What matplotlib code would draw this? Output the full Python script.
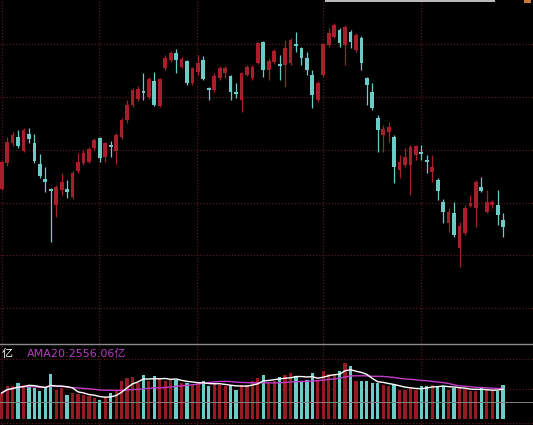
import matplotlib
matplotlib.use("Agg")
import matplotlib.pyplot as plt
from matplotlib.patches import Rectangle
import numpy as np
import pandas as pd

# ---- data ----
opens = [3122,3174,3214,3226,3198,3232,3214,3172,3142,3122,3090,3120,3122,3106,3158,3174,3176,3204,3224,3186,
         3210,3198,3226,3260,3290,3302,3318,3306,3338,3288,3364,3380,3394,3366,3378,3334,3356,3380,3324,3320,
         3344,3354,3348,3316,3300,3350,3344,3374,3416,3360,3376,3372,3370,3374,3412,3404,3384,3350,3300,3350,
         3410,3426,3440,3410,3436,3400,3424,3344,3316,3264,3230,3236,3226,3160,3170,3170,3190,3196,3180,3156,
         3140,3096,3054,3074,3004,3034,3088,3084,3126,3076,3090,3090,3060]
highs = [3180,3226,3236,3240,3244,3244,3232,3192,3166,3124,3130,3154,3140,3158,3194,3200,3206,3224,3226,3216,
         3218,3234,3264,3300,3324,3328,3354,3346,3356,3344,3390,3398,3402,3386,3380,3366,3390,3388,3326,3354,
         3368,3368,3350,3334,3356,3370,3370,3416,3418,3384,3402,3390,3420,3424,3436,3406,3396,3360,3338,3414,
         3444,3454,3444,3450,3440,3434,3428,3346,3334,3270,3250,3256,3230,3190,3204,3210,3210,3210,3190,3190,
         3144,3102,3084,3096,3056,3090,3110,3140,3146,3120,3100,3120,3074]
lows = [3120,3168,3208,3204,3196,3214,3174,3144,3116,3016,3066,3110,3104,3102,3154,3170,3174,3200,3176,3176,
        3186,3172,3222,3254,3286,3298,3300,3302,3288,3286,3360,3376,3354,3364,3330,3330,3350,3340,3300,3316,
        3340,3344,3300,3304,3276,3348,3340,3372,3346,3340,3372,3340,3326,3370,3396,3370,3350,3284,3296,3346,
        3406,3424,3406,3370,3404,3396,3360,3290,3280,3196,3196,3216,3134,3144,3166,3110,3180,3180,3154,3136,
        3100,3054,3036,3026,2966,3030,3086,3046,3116,3074,3084,3050,3026]
closes = [3176,3216,3230,3208,3240,3222,3178,3148,3136,3118,3126,3136,3116,3154,3176,3194,3202,3220,3184,3214,
          3207,3230,3260,3290,3320,3322,3314,3342,3290,3342,3384,3394,3380,3382,3334,3364,3374,3342,3320,3348,
          3364,3364,3316,3313,3354,3366,3366,3414,3360,3378,3398,3368,3404,3420,3408,3384,3360,3310,3334,3412,
          3434,3450,3414,3446,3416,3430,3374,3330,3284,3240,3242,3246,3166,3176,3186,3206,3208,3192,3176,3166,
          3118,3076,3076,3030,3048,3084,3094,3136,3118,3096,3096,3070,3046]
volumes = [2184,2744,2744,3024,2884,2744,2604,2324,2660,3780,2464,2604,2044,2184,2100,2044,1904,1764,1624,1820,
           2184,2464,3164,3444,3500,3024,3668,3164,3584,3444,3164,3304,3304,3024,3024,2884,3024,3220,2744,2940,
           2884,2744,2884,2464,2884,2828,3164,3444,3720,3024,3164,3500,3724,3864,3584,3164,3304,3864,3220,4004,
           3780,3724,4060,4704,4424,3164,3220,3220,3024,3024,2884,2744,2828,2464,2464,2604,2464,2744,2744,2884,
           2744,2744,2464,2604,2604,2548,2324,2380,2604,2464,2324,2380,2828]
ma_label_left = "亿"
ma_label = "AMA20:2556.06亿"

UP = "#a81f2c"
DOWN = "#6ccbc7"
VUP = "#961a21"
GRID = "#561a1e"

n = len(opens)
x = np.arange(n)
o = np.array(opens, float); c = np.array(closes, float)
h = np.array(highs, float); l = np.array(lows, float)
up = c >= o
vol = pd.Series(volumes, dtype=float)
ma5 = vol.rolling(5, min_periods=1).mean()
ma20 = vol.rolling(20, min_periods=1).mean()

W, H = 533, 425
fig = plt.figure(figsize=(W / 100, H / 100), dpi=100, facecolor="black")
ax = fig.add_axes([0, 82 / H, 1, 343 / H], facecolor="black")
axv = fig.add_axes([0, 0, 1, 82 / H], facecolor="black")

xlim = (-1.7 / 5.45, (W - 1.7) / 5.45)
vgrid = [0.05, 17.8, 35.9, 58.9, 77.0]
dots = (0, (1, 1.5))

# main panel
ax.set_xlim(*xlim)
ax.set_ylim(3500 - 2 * 343, 3500)
for gy in [3412, 3306, 3201, 3095, 2990, 2884]:
    ax.axhline(gy, color=GRID, lw=0.9, ls=dots, zorder=0)
for gx in vgrid:
    ax.axvline(gx, color=GRID, lw=0.9, ls=dots, zorder=0)

cols = np.where(up, UP, DOWN)
ax.vlines(x, l, h, colors=cols, lw=0.9, zorder=2)
bottom = np.minimum(o, c)
height = np.maximum(np.abs(c - o), 2.5)
ax.bar(x, height, bottom=bottom, width=0.68, color=cols, edgecolor="none", zorder=3)
ax.axis("off")

# volume panel
axv.set_xlim(*xlim)
axv.set_ylim(-6 * 84, 76 * 84)
for gy in [5040, 2520, -336]:
    axv.axhline(gy, color=GRID, lw=0.9, ls=dots, zorder=0)
for gx in vgrid:
    axv.axvline(gx, color=GRID, lw=0.9, ls=dots, zorder=0)
vcols = np.where(up, VUP, DOWN)
axv.bar(x, vol, width=0.6, color=vcols, edgecolor="none", zorder=2)
axv.axhline(1428, color="#808080", lw=0.7, zorder=3)
axv.axhline(76 * 84 - 60, color="#8c8c8c", lw=1.0, zorder=3)
axv.plot(x, ma20, color="#c23cc8", lw=1.0, zorder=4)
axv.plot(x, ma5, color="white", lw=1.0, zorder=5)
axv.axis("off")

fam = ["DejaVu Sans", "Noto Sans CJK SC"]
fig.text(2 / W, 1 - 354 / H, ma_label_left, color="white", fontsize=8, va="center", ha="left", family=fam)
fig.text(27 / W, 1 - 354 / H, ma_label, color="#b83cc4", fontsize=8, va="center", ha="left", family=fam)

# cut-off header strip at top right
fig.patches.append(Rectangle((325 / W, 1 - 2 / H), 170 / W, 2 / H, transform=fig.transFigure,
                             facecolor="#b8b8b8", edgecolor="none"))
fig.patches.append(Rectangle((524 / W, 1 - 3 / H), 7 / W, 3 / H, transform=fig.transFigure,
                             facecolor="#c87a3a", edgecolor="none"))

fig.savefig("out.png", dpi=100, facecolor="black")
